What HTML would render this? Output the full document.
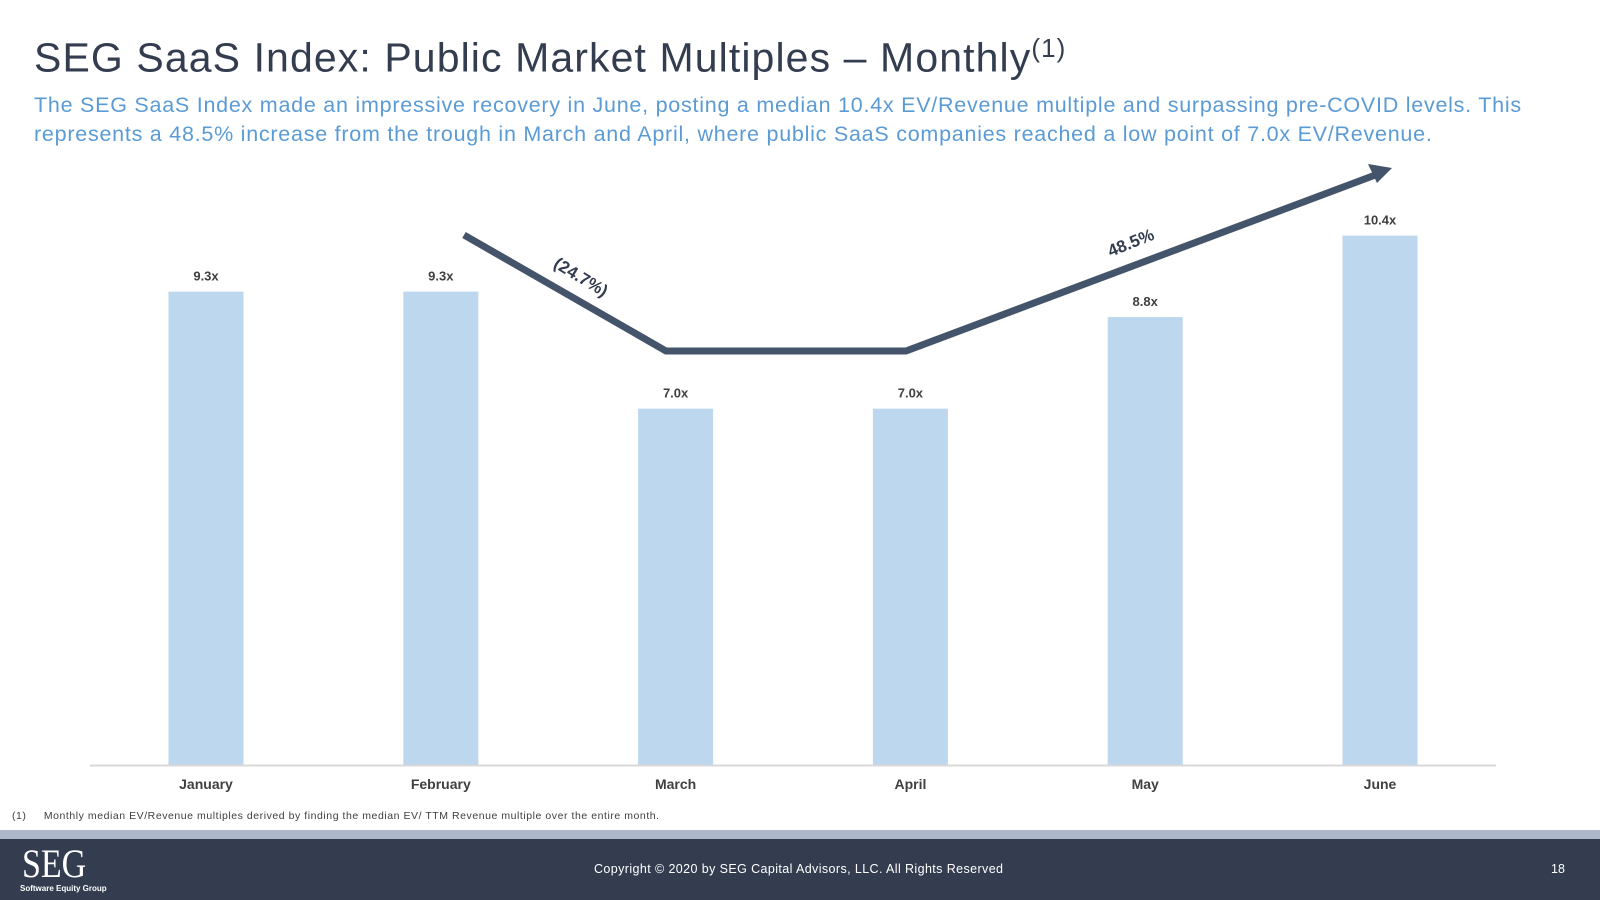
<!DOCTYPE html>
<html><head><meta charset="utf-8"><style>
body{margin:0;width:1600px;height:900px;overflow:hidden;background:#fff;font-family:"Liberation Sans",Arial,sans-serif;position:relative}
.t{position:absolute;white-space:nowrap}
</style></head><body>
<div class="t" style="left:34px;top:33px;font-size:41px;color:#333d4f;letter-spacing:1.1px">SEG SaaS Index: Public Market Multiples – Monthly<sup style="font-size:26px">(1)</sup></div>
<div class="t" style="left:34px;top:91px;font-size:21.5px;line-height:29px;color:#5b9bd5;letter-spacing:0.75px">The SEG SaaS Index made an impressive recovery in June, posting a median 10.4x EV/Revenue multiple and surpassing pre-COVID levels. This<br>represents a 48.5% increase from the trough in March and April, where public SaaS companies reached a low point of 7.0x EV/Revenue.</div>
<svg id="chart" width="1600" height="900" style="position:absolute;left:0;top:0">
<g id="bars"></g>
<line x1="90" y1="765.5" x2="1496" y2="765.5" stroke="#d9d9d9" stroke-width="2"/>
<polyline points="464,235 666,351 906,351 1378,174" fill="none" stroke="#44546a" stroke-width="7"/>
<polygon points="1392,168 1368,164 1377,183" fill="#44546a"/>
<text x="578" y="282" transform="rotate(31 578 282)" text-anchor="middle" font-size="17" font-weight="bold" fill="#333d4f" font-family="Liberation Sans, sans-serif">(24.7%)</text>
<text x="1133" y="248" transform="rotate(-22 1133 248)" text-anchor="middle" font-size="17" font-weight="bold" fill="#333d4f" font-family="Liberation Sans, sans-serif">48.5%</text>
</svg>
<div class="t" style="left:12px;top:810px;font-size:10.5px;color:#404040;letter-spacing:0.55px">(1)&nbsp;&nbsp;&nbsp;&nbsp;&nbsp;Monthly median EV/Revenue multiples derived by finding the median EV/ TTM Revenue multiple over the entire month.</div>
<div style="position:absolute;left:0;top:830px;width:1600px;height:9px;background:#adb9ca"></div>
<div style="position:absolute;left:0;top:839px;width:1600px;height:61px;background:#333d4f"></div>
<div class="t" style="left:22px;top:844px;font-family:'Liberation Serif',serif;font-size:40px;color:#fff;line-height:40px;transform:scaleX(0.85);transform-origin:left">SEG</div>
<div class="t" style="left:20px;top:884px;font-size:8px;font-weight:bold;color:#fff">Software Equity Group</div>
<div class="t" style="left:594px;top:862px;font-size:12.5px;color:#fff;letter-spacing:0.4px">Copyright © 2020 by SEG Capital Advisors, LLC. All Rights Reserved</div>
<div class="t" style="left:1551px;top:862px;font-size:12.5px;color:#fff">18</div>
<script>
const categories=["January","February","March","April","May","June"];
const values=[9.3,9.3,7.0,7.0,8.8,10.4];
const valueLabels=["9.3x","9.3x","7.0x","7.0x","8.8x","10.4x"];
const NS="http://www.w3.org/2000/svg";
const y0=765,pxPerUnit=50.9,x0=206,step=234.8,bw=75;
function xPos(i){return x0+i*step;}
function yPos(v){return y0-v*pxPerUnit;}
const g=document.getElementById('bars');
categories.forEach((c,i)=>{
 const r=document.createElementNS(NS,'rect');
 
 
 r.setAttribute('x',xPos(i)-bw/2);r.setAttribute('y',yPos(values[i]));
 r.setAttribute('width',bw);r.setAttribute('height',y0-yPos(values[i]));
 r.setAttribute('fill','#bdd7ee');g.appendChild(r);
 const t=document.createElementNS(NS,'text');
 
 
 t.setAttribute('x',xPos(i));t.setAttribute('y',yPos(values[i])-11);
 t.setAttribute('text-anchor','middle');t.setAttribute('font-size','13');t.setAttribute('font-weight','bold');
 t.setAttribute('fill','#404040');t.setAttribute('font-family','Liberation Sans, sans-serif');
 t.textContent=valueLabels[i];g.appendChild(t);
 const m=document.createElementNS(NS,'text');
 
 
 m.setAttribute('x',xPos(i));m.setAttribute('y',789);
 m.setAttribute('text-anchor','middle');m.setAttribute('font-size','14');m.setAttribute('font-weight','bold');
 m.setAttribute('fill','#404040');m.setAttribute('font-family','Liberation Sans, sans-serif');
 m.textContent=c;g.appendChild(m);
});
</script>
</body></html>
